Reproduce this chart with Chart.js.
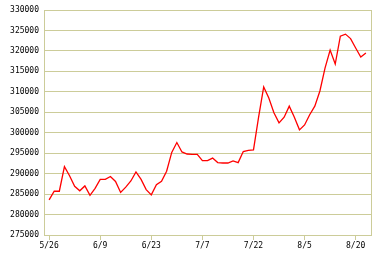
<!DOCTYPE html>
<html>
<head>
<meta charset="utf-8">
<script src="https://cdn.jsdelivr.net/npm/chart.js@4"></script>
<style>
  body { margin: 0; background: #fff; }
  #wrap { width: 382px; height: 258px; }
</style>
</head>
<body>
<div id="wrap"><canvas id="myLinechart" width="382" height="258"></canvas></div>
<script>
// data (one point per trading day)
const prices = [
  283600, 285700, 285700, 291700, 289500, 286900, 285800, 287000, 284700, 286400,
  288600, 288600, 289300, 288100, 285400, 286700, 288200, 290400, 288600, 286100,
  284800, 287300, 288100, 290600, 295200, 297600, 295300, 294800, 294700, 294700,
  293200, 293200, 293800, 292700, 292600, 292600, 293100, 292700, 295400, 295700,
  295800, 303800, 311200, 308500, 304900, 302400, 303800, 306500, 303800, 300700,
  301900, 304400, 306500, 310200, 315800, 320200, 316800, 323600, 324100, 323000,
  320700, 318500, 319500
];
const xTickPos = [0, 10, 20, 30, 40, 50, 60];
const xTickLabels = ["5/26", "6/9", "6/23", "7/7", "7/22", "8/5", "8/20"];
const yMin = 275000;
const yMax = 330000;
const yStep = 5000;

const points = prices.map(function (v, i) { return { x: i, y: v }; });

const gridColor = "#cccc99";
const tickFont = { family: "DejaVu Sans Mono", size: 8 };

const ctx = document.getElementById("myLinechart");
const mychart = new Chart(ctx, {
  type: "line",
  data: {
    datasets: [
      {
        data: points,
        borderColor: "#ff0000",
        borderWidth: 1.3,
        pointRadius: 0,
        tension: 0,
        fill: false,
      },
    ],
  },
  options: {
    responsive: false,
    animation: false,
    layout: { padding: { top: 10, right: 11, left: 0, bottom: 0 } },
    plugins: {
      legend: { display: false },
      tooltip: { enabled: false },
    },
    scales: {
      x: {
        type: "linear",
        min: -1,
        max: prices.length,
        afterBuildTicks: function (scale) {
          scale.ticks = xTickPos.map(function (v) { return { value: v }; });
        },
        afterFit: function (scale) { scale.height = 23; },
        ticks: {
          color: "#000",
          font: tickFont,
          padding: 1,
          maxRotation: 0,
          autoSkip: false,
          callback: function (value) {
            const k = xTickPos.indexOf(value);
            return k >= 0 ? xTickLabels[k] : "";
          },
        },
        grid: {
          drawOnChartArea: false,
          drawTicks: true,
          tickLength: 5,
          color: gridColor,
        },
        border: { display: true, color: gridColor, width: 1 },
      },
      y: {
        min: yMin,
        max: yMax,
        afterFit: function (scale) { scale.width = 44; },
        ticks: {
          stepSize: yStep,
          color: "#000",
          font: tickFont,
          padding: 5,
          callback: function (value) { return String(value); },
        },
        grid: {
          color: gridColor,
          drawTicks: false,
          lineWidth: 1,
        },
        border: { display: true, color: gridColor, width: 1 },
      },
      y1: {
        position: "right",
        min: yMin,
        max: yMax,
        afterFit: function (scale) { scale.width = 0; },
        ticks: { display: false },
        grid: { display: false, drawTicks: false },
        border: { display: true, color: gridColor, width: 1 },
      },
    },
  },
});
</script>
</body>
</html>
